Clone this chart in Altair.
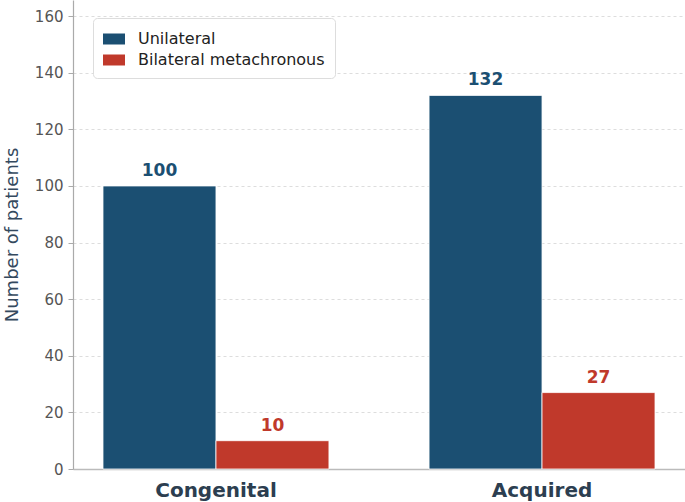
import altair as alt
import pandas as pd

categories = ["Congenital", "Acquired"]
series = ["Unilateral", "Bilateral metachronous"]
unilateral = [100, 132]
bilateral = [10, 27]
y_ticks = [0, 20, 40, 60, 80, 100, 120, 140, 160]

rows = []
for i, c in enumerate(categories):
    rows.append({"category": c, "series": series[0], "value": unilateral[i]})
    rows.append({"category": c, "series": series[1], "value": bilateral[i]})
df = pd.DataFrame(rows)

colors = ["#1b4f72", "#c0392b"]
FONT = "DejaVu Sans"

x = alt.X("category:N", sort=categories, title=None,
          scale=alt.Scale(paddingInner=0.307, paddingOuter=0.092),
          axis=alt.Axis(labelAngle=0, labelFontSize=20, labelFontWeight="bold",
                        labelColor="#2c3e50", ticks=False, labelPadding=11,
                        domainColor="#bbbbbb", domainWidth=1.5, labelFont=FONT))
xo = alt.XOffset("series:N", sort=series)
y = alt.Y("value:Q", title="Number of patients",
          scale=alt.Scale(domain=[0, 165.7], nice=False),
          axis=alt.Axis(values=y_ticks, labelFontSize=15, labelColor="#555555",
                        titleFontSize=18, titleColor="#34495e", titleFontWeight="normal",
                        titlePadding=13, tickColor="#aaaaaa", tickSize=5,
                        domainColor="#aaaaaa", domainWidth=1.2, gridColor="#dddddd",
                        gridDash=[3, 3], labelFont=FONT, titleFont=FONT, labelPadding=5))

bars = alt.Chart(df).mark_bar(stroke="white", strokeWidth=0.8).encode(
    x=x, xOffset=xo, y=y,
    color=alt.Color("series:N", sort=series,
                    scale=alt.Scale(domain=series, range=colors),
                    legend=alt.Legend(title=None, orient="none", legendX=20, legendY=18,
                                      symbolType="M-1,-0.5H1V0.5H-1Z", symbolSize=484,
                                      symbolStrokeWidth=0, labelFontSize=16,
                                      labelColor="#222222", labelFont=FONT,
                                      labelOffset=13, rowPadding=2, padding=10,
                                      labelLimit=400,
                                      fillColor="white", strokeColor="#dddddd",
                                      cornerRadius=4)),
)

texts = alt.Chart(df).mark_text(dy=-10, baseline="alphabetic", fontSize=17, fontWeight="bold",
                                font=FONT).encode(
    x=alt.X("category:N", sort=categories), xOffset=alt.XOffset("series:N", sort=series),
    y="value:Q", text="value:Q",
    color=alt.Color("series:N", scale=alt.Scale(domain=series, range=colors), legend=None),
)

chart = alt.layer(bars, texts).resolve_scale(color="independent").properties(
    width=612, height=469,
    padding={"left": 73, "top": 0, "right": 0, "bottom": 33},
    autosize=alt.AutoSizeParams(type="none"),
).configure_view(stroke=None).configure_axis(grid=False).configure_axisY(grid=True)

chart.save("out.html", embed_options={"renderer": "svg", "actions": False})
